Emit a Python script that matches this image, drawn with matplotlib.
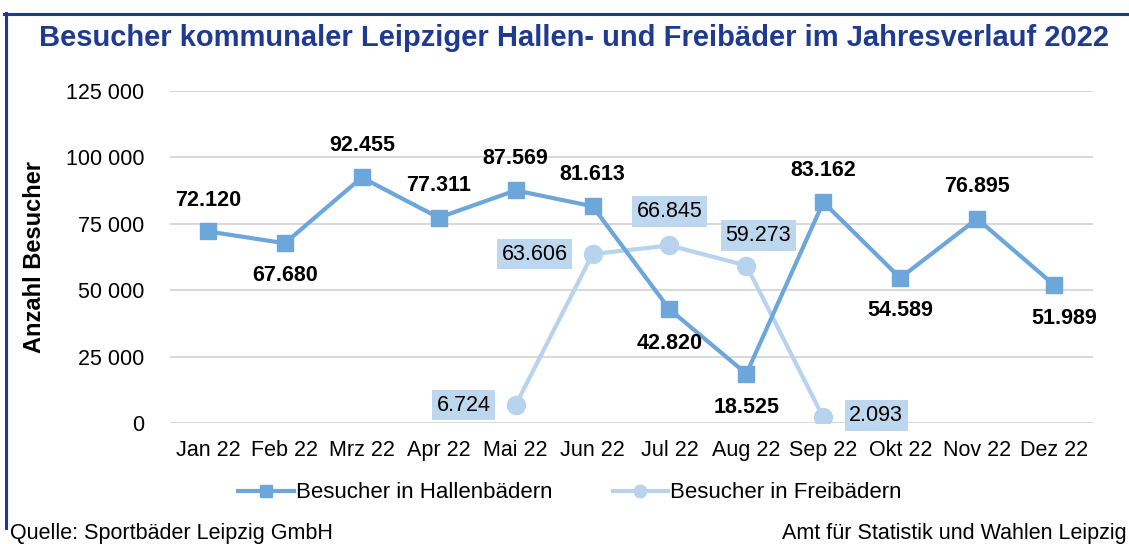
import numpy as np
import matplotlib
matplotlib.use("Agg")
import matplotlib.pyplot as plt
from matplotlib.lines import Line2D

plt.rcParams['font.family'] = ['Liberation Sans', 'DejaVu Sans']

months = ["Jan 22", "Feb 22", "Mrz 22", "Apr 22", "Mai 22", "Jun 22",
          "Jul 22", "Aug 22", "Sep 22", "Okt 22", "Nov 22", "Dez 22"]
hallen = [72120, 67680, 92455, 77311, 87569, 81613,
          42820, 18525, 83162, 54589, 76895, 51989]
frei = [np.nan, np.nan, np.nan, np.nan, 6724, 63606,
        66845, 59273, 2093, np.nan, np.nan, np.nan]
y_ticks = [0, 25000, 50000, 75000, 100000, 125000]

title = "Besucher kommunaler Leipziger Hallen- und Freibäder im Jahresverlauf 2022"
c_hallen = "#6CA6DA"
c_frei = "#B7D3EE"
c_box = "#BDD7EE"
c_frame = "#1F3A93"

W, H = 1129, 544
fig = plt.figure(figsize=(W / 100, H / 100), dpi=100)

# outer frame (top and left edge)
fig.add_artist(Line2D([4 / W, 1.0], [1 - 14 / H, 1 - 14 / H], color=c_frame, lw=2.2))
fig.add_artist(Line2D([6 / W, 6 / W], [1 - 13 / H, 1 - 528 / H], color=c_frame, lw=2.2))

fig.text(574 / W, 1 - 38 / H, title, ha="center", va="center",
         fontsize=21, fontweight="bold", color=c_frame)

ax_left, ax_right = 169.5, 1092.5
ax_top, ax_bot = 91, 423
ax = fig.add_axes([ax_left / W, 1 - ax_bot / H, (ax_right - ax_left) / W, (ax_bot - ax_top) / H])
x = np.arange(len(months))

ax.set_xlim(-0.5, len(months) - 0.5)
ax.set_ylim(0, 125000)
ax.set_yticks(y_ticks)
ax.set_yticklabels([f"{v:,}".replace(",", " ") for v in y_ticks])
ax.set_xticks(x)
ax.set_xticklabels(months)
ax.tick_params(axis="both", length=0, labelsize=15.5, colors="#000000")
ax.tick_params(axis="y", pad=18)
ax.tick_params(axis="x", pad=12)
for s in ax.spines.values():
    s.set_visible(False)
ax.grid(axis="y", color="#D9D9D9", lw=1.5)
ax.set_axisbelow(True)

fig.text(35 / W, 1 - 257 / H, "Anzahl Besucher", rotation=90, ha="center", va="center",
         fontsize=17, fontweight="bold")

ax.plot(x, hallen, color=c_hallen, lw=3, marker="s", ms=11, zorder=3)
ax.plot(x, frei, color=c_frei, lw=3, marker="o", ms=13, zorder=2)

def fmt(v):
    return f"{int(v):,}".replace(",", ".")

# label offsets in pixels for the indoor pools
h_off = [(0, 31), (0, -32), (0, 32), (0, 32), (0, 32), (0, 32),
         (0, -34), (0, -34), (0, 32), (0, -32), (0, 32), (10, -34)]
for xi, v, (dx, dy) in zip(x, hallen, h_off):
    ax.annotate(fmt(v), (xi, v), xytext=(dx, dy), textcoords="offset pixels",
                ha="center", va="center", fontsize=15.5, fontweight="bold", zorder=5)

f_off = {4: (-52, 0), 5: (-58, 0), 6: (0, 34), 7: (12, 30), 8: (53, 2)}
for i, (dx, dy) in f_off.items():
    ax.annotate(fmt(frei[i]), (x[i], frei[i]), xytext=(dx, dy), textcoords="offset pixels",
                ha="center", va="center", fontsize=15.5, zorder=5,
                bbox=dict(boxstyle="square,pad=0.22", fc=c_box, ec="none"))

handles = [Line2D([], [], color=c_hallen, lw=3, marker="s", ms=9),
           Line2D([], [], color=c_frei, lw=3, marker="o", ms=9)]
fig.legend(handles, ["Besucher in Hallenbädern", "Besucher in Freibädern"],
           loc="center", bbox_to_anchor=(570 / W, 1 - 493 / H), ncol=2, frameon=False,
           fontsize=16, handlelength=2.5, handletextpad=0.1, columnspacing=2.7)

fig.text(10 / W, 1 - 534 / H, "Quelle: Sportbäder Leipzig GmbH", ha="left", va="center", fontsize=15.5)
fig.text(1127 / W, 1 - 534 / H, "Amt für Statistik und Wahlen Leipzig", ha="right", va="center", fontsize=15.5)

fig.savefig("out.png", dpi=100)
